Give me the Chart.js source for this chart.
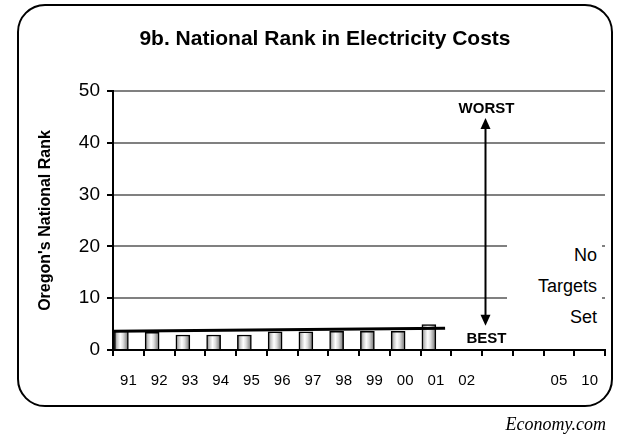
<!DOCTYPE html>
<html>
<head>
<meta charset="utf-8">
<script src="https://cdn.jsdelivr.net/npm/chart.js@4"></script>
<style>
  body { margin: 0; background: #fff; width: 619px; height: 435px; position: relative; overflow: hidden; font-family: "Liberation Sans", Arial, sans-serif; }
  #frame { position: absolute; left: 17px; top: 4px; width: 592px; height: 399px; border: 2px solid #000; border-radius: 28px; }
  #wrap { position: absolute; left: 0; top: 0; width: 619px; height: 435px; }
  #title { position: absolute; left: 0; width: 650px; top: 26px; text-align: center; font-weight: bold; font-size: 21px; }
  #noTargets { position: absolute; left: 507px; top: 212px; width: 95px; height: 128px; background: #fff; text-align: right; font-size: 18px; line-height: 31px; padding-top: 28px; padding-right: 5px; box-sizing: border-box; }
  #source { position: absolute; right: 13px; top: 414px; font-family: "Liberation Serif", "Times New Roman", serif; font-style: italic; font-size: 18px; }
</style>
</head>
<body>
<div id="frame"></div>
<div id="wrap"><canvas id="rankChart" width="619" height="435"></canvas></div>
<div id="title">9b. National Rank in Electricity Costs</div>
<div id="noTargets">No<br>Targets<br>Set</div>
<div id="source">Economy.com</div>
<script>
// years on the axis (blank ones are 03 and 04)
const years = ['91', '92', '93', '94', '95', '96', '97', '98', '99', '00', '01', '02', '', '', '05', '10'];
// Oregon's rank
const rank = [3.7, 3.4, 2.9, 2.9, 2.9, 3.5, 3.5, 3.6, 3.6, 3.6, 4.9, null, null, null, null, null];
// no targets were set
const targets = [null, null, null, null, null, null, null, null, null, null, null, null, null, null, null, null];
// trend line end points (x in category units, y in rank)
const trendX = [0, 10.8];
const trendY = [3.6, 4.2];
const yTicks = [0, 10, 20, 30, 40, 50];

// arrow between BEST and WORST
const arrowX = 12.1;
const arrowFrom = 4.7;
const arrowTo = 44.8;

function barGradient(c) {
    const chart = c.chart;
    const xs = chart.scales.x;
    if (!xs || !chart.chartArea) return '#cccccc';
    const center = xs.getPixelForValue(c.dataIndex);
    const left = center - 14;
    const g = chart.ctx.createLinearGradient(left, 0, center, 0);
    g.addColorStop(0, '#7a7a7a');
    g.addColorStop(0.2, '#c8c8c8');
    g.addColorStop(0.42, '#ffffff');
    g.addColorStop(0.62, '#dedede');
    g.addColorStop(0.85, '#999999');
    g.addColorStop(1, '#6e6e6e');
    return g;
}

const arrowPlugin = {
    id: 'arrowPlugin',
    afterDatasetsDraw(chart) {
        const ctx = chart.ctx;
        const xt = chart.scales.xt;
        const y = chart.scales.y;
        const x = Math.round(xt.getPixelForValue(arrowX)) + 0.5;
        const yTop = y.getPixelForValue(arrowTo);
        const yBot = y.getPixelForValue(arrowFrom);
        ctx.save();
        ctx.strokeStyle = '#000';
        ctx.fillStyle = '#000';
        ctx.lineWidth = 2;
        ctx.beginPath();
        ctx.moveTo(x, yTop + 8);
        ctx.lineTo(x, yBot - 8);
        ctx.stroke();
        ctx.beginPath();
        ctx.moveTo(x, yTop);
        ctx.lineTo(x - 5, yTop + 11);
        ctx.lineTo(x + 5, yTop + 11);
        ctx.closePath();
        ctx.fill();
        ctx.beginPath();
        ctx.moveTo(x, yBot);
        ctx.lineTo(x - 5, yBot - 11);
        ctx.lineTo(x + 5, yBot - 11);
        ctx.closePath();
        ctx.fill();
        ctx.font = 'bold 15px "Liberation Sans", Arial, sans-serif';
        ctx.textAlign = 'center';
        ctx.textBaseline = 'middle';
        ctx.fillText('WORST', x + 1, yTop - 9);
        ctx.fillText('BEST', x + 1, yBot + 13);
        ctx.restore();
    }
};

const ctx = document.getElementById('rankChart').getContext('2d');
new Chart(ctx, {
    type: 'bar',
    data: {
        labels: years,
        datasets: [
            {
                type: 'line',
                label: 'Trend',
                data: trendX.map((v, i) => ({ x: v, y: trendY[i] })),
                xAxisID: 'xt',
                borderColor: '#000',
                borderWidth: 3,
                pointRadius: 0,
                fill: false,
                order: 0
            },
            {
                label: 'Rank',
                data: rank,
                backgroundColor: barGradient,
                borderColor: '#000',
                borderWidth: 1.5,
                barThickness: 14,
                order: 1
            },
            {
                label: 'Target',
                data: targets,
                backgroundColor: '#fff',
                barThickness: 14,
                order: 2
            }
        ]
    },
    options: {
        responsive: false,
        animation: false,
        layout: {
            padding: { left: 36, right: 14, top: 91, bottom: 40 }
        },
        scales: {
            x: {
                grid: {
                    drawOnChartArea: false,
                    drawTicks: true,
                    tickLength: 6,
                    tickColor: '#000',
                    lineWidth: 2,
                    offset: true
                },
                border: { color: '#000', width: 2 },
                ticks: {
                    color: '#000',
                    maxRotation: 0,
                    autoSkip: false,
                    padding: 16,
                    font: { family: '"Liberation Sans", Arial, sans-serif', size: 15 }
                },
                afterFit: s => { s.height = 45; }
            },
            xt: {
                type: 'linear',
                display: false,
                min: 0,
                max: 16,
                offset: false
            },
            y: {
                min: 0,
                max: 50,
                afterBuildTicks: s => { s.ticks = yTicks.map(v => ({ value: v })); },
                grid: {
                    color: '#808080',
                    lineWidth: 2,
                    tickColor: '#000',
                    tickLength: 6
                },
                border: { color: '#000', width: 2 },
                ticks: {
                    color: '#000',
                    padding: 7,
                    font: { family: '"Liberation Sans", Arial, sans-serif', size: 19 }
                },
                title: {
                    display: true,
                    text: "Oregon's National Rank",
                    color: '#000',
                    padding: { top: 0, bottom: 8 },
                    font: { family: '"Liberation Sans", Arial, sans-serif', size: 16, weight: 'bold' }
                },
                afterFit: s => { s.width = 77; }
            }
        },
        plugins: {
            legend: { display: false },
            tooltip: { enabled: false }
        }
    },
    plugins: [arrowPlugin]
});
</script>
</body>
</html>
